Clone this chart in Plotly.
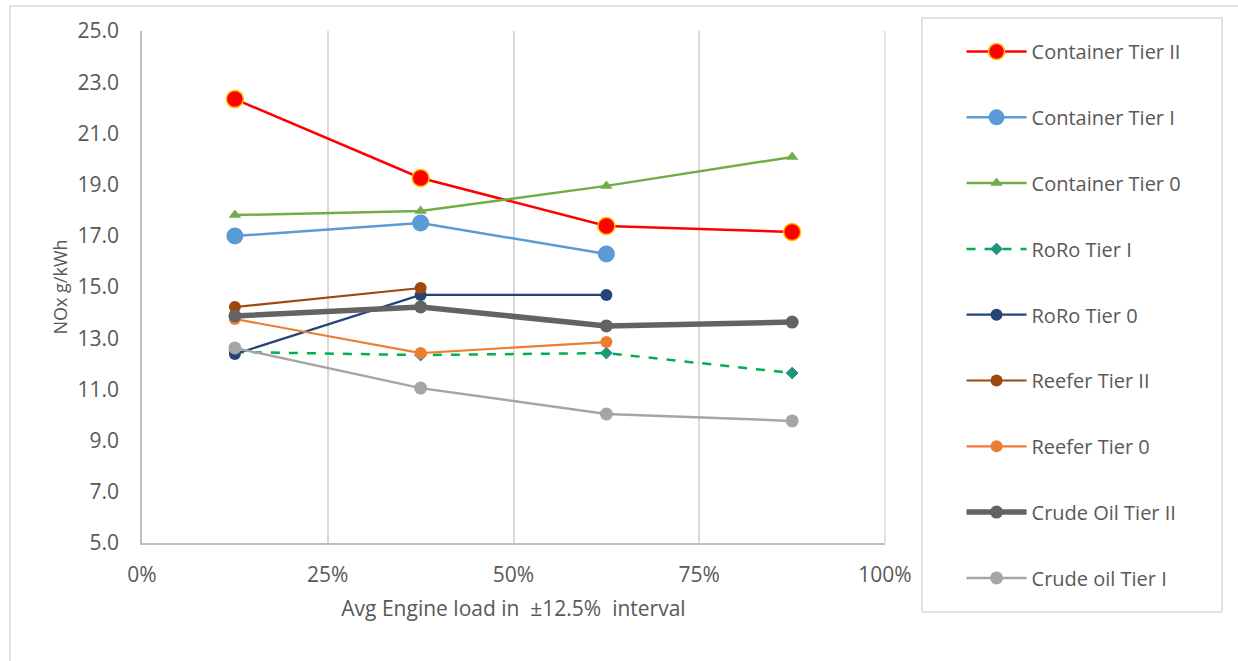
import plotly.graph_objects as go

# Engine load bin centres (fraction of MCR, ±12.5% intervals)
load = [0.125, 0.375, 0.625, 0.875]

# NOx emission factors, g/kWh
container_t2 = [22.34, 19.26, 17.38, 17.15]
container_t1 = [16.99, 17.50, 16.29]
container_t0 = [17.81, 17.97, 18.95, 20.08]
roro_t1 = [12.46, 12.34, 12.42, 11.64]
roro_t0 = [12.38, 14.69, 14.69]
reefer_t2 = [14.22, 14.96]
reefer_t0 = [13.75, 12.42, 12.85]
crude_t2 = [13.87, 14.22, 13.48, 13.63]
crude_t1 = [12.62, 11.05, 10.04, 9.77]

y_ticks = [5, 7, 9, 11, 13, 15, 17, 19, 21, 23, 25]
x_ticks = [0, 0.25, 0.5, 0.75, 1.0]

series = [
    ("Container Tier II", container_t2, dict(color="#FF0000", width=2.5), dict(symbol="circle", size=17, color="#FF0000", line=dict(color="#FFC000", width=1.5))),
    ("Container Tier I", container_t1, dict(color="#5B9BD5", width=2.5), dict(symbol="circle", size=17, color="#5B9BD5")),
    ("Container Tier 0", container_t0, dict(color="#70AD47", width=2.5), dict(symbol="triangle-up", size=11, color="#70AD47")),
    ("RoRo Tier I", roro_t1, dict(color="#00B050", width=2.5, dash="dash"), dict(symbol="diamond", size=9, color="#14A064", line=dict(color="#4472C4", width=1))),
    ("RoRo Tier 0", roro_t0, dict(color="#264478", width=2.2), dict(symbol="circle", size=12, color="#264478")),
    ("Reefer Tier II", reefer_t2, dict(color="#9E480E", width=2.2), dict(symbol="circle", size=12, color="#9E480E")),
    ("Reefer Tier 0", reefer_t0, dict(color="#ED7D31", width=2.2), dict(symbol="circle", size=12, color="#ED7D31")),
    ("Crude Oil Tier II", crude_t2, dict(color="#636363", width=5.5), dict(symbol="circle", size=13, color="#636363")),
    ("Crude oil Tier I", crude_t1, dict(color="#A5A5A5", width=2.5), dict(symbol="circle", size=13, color="#A5A5A5")),
]

fig = go.Figure()
for name, vals, line, marker in series:
    fig.add_trace(go.Scatter(
        x=load[:len(vals)], y=vals, name=name, mode="lines+markers",
        line=line, marker=marker, legendgroup=name,
    ))

font_family = "'Open Sans', sans-serif"
text_color = "#595959"

fig.update_layout(
    width=1238, height=661,
    margin=dict(l=142, r=353, t=31, b=118, autoexpand=False),
    paper_bgcolor="white", plot_bgcolor="white",
    font=dict(family=font_family, color=text_color, size=20),
    showlegend=True,
    legend=dict(
        x=1.103, xanchor="left",
        y=0.998, yanchor="top",
        maxheight=650,
        font=dict(size=20, color=text_color),
        tracegroupgap=36.8, itemwidth=60,
        bgcolor="rgba(0,0,0,0)", borderwidth=0,
    ),
    xaxis=dict(
        range=[0, 1], tickvals=x_ticks, tickformat=".0%",
        showgrid=True, gridcolor="#D9D9D9", gridwidth=1.5,
        showline=True, linecolor="#BFBFBF", linewidth=1.5, mirror=False,
        zeroline=False, ticks="", ticklabelstandoff=12,
        tickfont=dict(size=21),
        title=dict(text="Avg Engine load in  ±12.5%  interval", font=dict(size=21, color=text_color), standoff=14),
    ),
    yaxis=dict(
        range=[5, 25], tickvals=y_ticks, tickformat=".1f",
        showgrid=False, zeroline=False,
        showline=True, linecolor="#BFBFBF", linewidth=1.5,
        ticks="", ticklabelstandoff=17,
        tickfont=dict(size=21),
        title=dict(text="NOx g/kWh", font=dict(size=18, color=text_color), standoff=5),
    ),
)

# Right edge of plot frame
fig.add_shape(type="line", xref="paper", yref="paper", x0=1, x1=1, y0=0, y1=1,
              line=dict(color="#D9D9D9", width=1.5), layer="below")
# Legend frame
px_w, px_h = 743.0, 512.0
def px2paper(xp, yp):
    return (xp - 142) / px_w, (543 - yp) / px_h
lx0, ly0 = px2paper(922, 612)
lx1, ly1 = px2paper(1222, 18)
fig.add_shape(type="rect", xref="paper", yref="paper", x0=lx0, y0=ly0, x1=lx1, y1=ly1,
              line=dict(color="#D9D9D9", width=1.5), fillcolor="rgba(0,0,0,0)")
# Outer chart border
ox0, oy1 = px2paper(10, 6)
ox1, oy0 = px2paper(1250, 675)
fig.add_shape(type="rect", xref="paper", yref="paper", x0=ox0, y0=oy0, x1=ox1, y1=oy1,
              line=dict(color="#D9D9D9", width=1.5), fillcolor="rgba(0,0,0,0)")

fig.write_html("out.html")
